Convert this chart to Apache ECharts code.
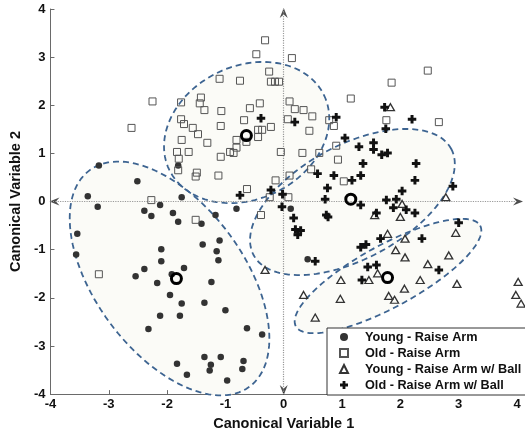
<!DOCTYPE html>
<html><head><meta charset="utf-8">
<script src="https://cdn.jsdelivr.net/npm/echarts@6/dist/echarts.min.js"></script>
<style>html,body{margin:0;padding:0;background:#fff}#c{width:525px;height:436px}</style>
</head><body><div id="c"></div>
<script>
const xTicks = [-4,-3,-2,-1,0,1,2,3,4];
const yTicks = [-4,-3,-2,-1,0,1,2,3,4];
const seriesNames = ['Young - Raise Arm','Old - Raise Arm','Young - Raise Arm w/ Ball','Old - Raise Arm w/ Ball'];

const youngRaiseArm = [[-3.17,0.75],[-2.51,0.42],[-3.36,0.11],[-3.19,-0.11],[-1.81,0.75],[-1.75,0.09],[-2.39,-0.19],[-2.27,-0.30],[-2.12,-0.07],[-1.90,-0.24],[-1.17,-0.28],[-0.81,-0.15],[-1.81,-0.42],[-1.41,-0.46],[-3.54,-0.67],[-3.56,-1.10],[-2.10,-0.99],[-1.39,-0.89],[-1.10,-0.81],[-1.15,-1.03],[-1.12,-1.22],[-2.10,-1.24],[-2.39,-1.40],[-2.54,-1.55],[-1.71,-1.38],[-1.92,-1.51],[-2.17,-1.69],[-1.24,-1.67],[-1.95,-1.94],[-1.75,-2.12],[-1.36,-2.10],[-2.12,-2.37],[-1.78,-2.37],[-1.00,-2.26],[-2.32,-2.65],[-0.63,-2.63],[-0.37,-2.76],[-1.36,-3.23],[-1.25,-3.39],[-1.83,-3.37],[-1.27,-3.51],[-1.08,-3.23],[-0.69,-3.31],[-0.71,-3.48],[-1.66,-3.60],[-0.97,-3.72],[0.12,-0.15],[0.41,-1.20]];

const oldRaiseArm = [[-0.32,3.35],[-0.47,3.06],[0.14,2.98],[-0.25,2.70],[-0.22,2.49],[-0.15,2.49],[-0.08,2.49],[-1.10,2.55],[-0.75,2.51],[-2.25,2.08],[-2.61,1.53],[-1.76,2.06],[-1.42,2.16],[-1.44,2.04],[-1.36,1.90],[-1.07,1.88],[-0.58,1.94],[-0.41,2.04],[0.10,2.08],[0.19,1.92],[0.34,1.90],[0.49,1.77],[0.07,1.71],[-1.76,1.71],[-1.71,1.61],[-1.56,1.53],[-1.47,1.40],[-1.08,1.57],[-0.68,1.69],[-0.44,1.49],[-0.37,1.49],[-0.22,1.55],[-0.44,1.34],[-1.75,1.28],[-1.31,1.22],[-0.81,1.28],[-0.64,1.24],[0.44,1.47],[2.47,2.72],[1.85,2.47],[1.15,2.14],[0.78,1.69],[0.86,1.57],[1.76,1.69],[2.66,1.65],[0.90,1.16],[0.93,0.87],[-1.08,0.93],[-0.92,1.03],[-0.86,1.01],[-0.81,1.12],[-1.83,1.03],[-1.63,1.03],[-1.80,0.89],[-1.81,0.65],[-1.49,0.60],[-1.51,0.52],[-1.12,0.54],[-0.05,1.03],[0.32,1.01],[0.61,1.01],[-0.14,0.44],[0.10,0.54],[0.47,0.67],[1.03,0.42],[-0.63,0.26],[-0.24,0.09],[0.08,0.09],[-2.27,0.03],[-1.51,-0.38],[-0.39,-0.28],[-3.17,-1.51]];

const youngRaiseArmBall = [[1.83,1.96],[2.03,-0.05],[2.78,0.09],[2.00,-0.32],[1.56,-0.28],[2.95,-0.65],[1.78,-0.67],[2.08,-0.77],[1.92,-1.01],[2.08,-1.16],[2.47,-1.30],[2.83,-1.12],[1.61,-1.49],[1.46,-1.63],[0.98,-1.63],[2.34,-1.63],[2.07,-1.81],[2.97,-1.71],[0.34,-1.94],[0.97,-2.02],[1.80,-1.96],[1.90,-2.04],[0.54,-2.41],[-0.32,-1.42],[4.02,-1.67],[3.98,-1.94],[4.07,-2.12]];

const oldRaiseArmBall = [[-0.39,1.73],[0.19,1.65],[-0.75,0.13],[0.90,1.75],[1.73,1.96],[2.20,1.71],[1.75,1.51],[1.05,1.32],[1.29,1.14],[1.54,1.22],[1.54,1.08],[1.68,0.97],[1.78,1.01],[2.27,0.79],[1.36,0.79],[0.58,0.58],[0.86,0.54],[1.17,0.44],[1.32,0.54],[2.25,0.44],[2.90,0.32],[0.75,0.28],[2.03,0.22],[0.71,0.05],[1.93,0.05],[1.76,0.03],[1.32,-0.07],[1.88,-0.13],[2.10,-0.17],[2.25,-0.24],[1.59,-0.24],[0.73,-0.28],[0.76,-0.32],[3.00,-0.44],[-0.22,0.24],[-0.02,0.15],[-0.03,-0.11],[0.17,-0.34],[0.20,-0.58],[0.29,-0.60],[0.24,-0.69],[0.54,-1.24],[1.32,-0.95],[1.41,-0.89],[1.66,-0.77],[2.37,-0.77],[1.44,-1.36],[1.59,-1.32],[1.34,-1.63],[2.66,-1.42]];

const centroids = [[-1.84,-1.60],[-0.64,1.37],[1.15,0.05],[1.78,-1.58]];

// confidence ellipses: [centerX, centerY, semiDiameter1 (dx,dy), semiDiameter2 (dx,dy)] in data units
const ellipseYoungRaise = [-1.958,-1.598, 1.368,-2.251, -1.029,-0.913];
const ellipseOldRaise = [-0.636,1.434, 1.326,0.778, 0.499,-1.243];
const ellipseOldBall = [1.178,-0.010, 1.693,1.107, 0.465,-1.039];
const ellipseYoungBall = [1.788,-1.547, 1.580,1.046, 0.256,-0.564];
const ellipses = [ellipseYoungRaise, ellipseOldRaise, ellipseOldBall, ellipseYoungBall];

const axisEnds = [[0,4],[4,0],[0,-4],[-4,0]];

const FONT = '"Liberation Sans", Arial, sans-serif';
const PLUS = 'path://M2.6,0H5.4V2.6H8V5.4H5.4V8H2.6V5.4H0V2.6H2.6Z';
const ARROW = 'path://M5,0L10,10L5,6.5L0,10Z';

function ellipseItem(mode){
  return function(params, api){
    const e = ellipses[api.value(0)];
    const pts = [];
    const N = 120;
    for (let k = 0; k <= N; k++){
      const t = 2*Math.PI*k/N;
      pts.push(api.coord([e[0]+Math.cos(t)*e[2]+Math.sin(t)*e[4], e[1]+Math.cos(t)*e[3]+Math.sin(t)*e[5]]));
    }
    if (mode === 'fill') return {type:'polygon', shape:{points:pts}, style:{fill:'#fbfbf7', stroke:null, opacity:1}};
    return {type:'polyline', shape:{points:pts}, style:{fill:null, stroke:'#3d6491', lineWidth:1.8, lineDash:[6,4]}};
  };
}

const chart = echarts.init(document.getElementById('c'), null, {renderer:'canvas'});
const axisCommon = {
  min:-4, max:4, interval:1,
  axisLine:{show:true, onZero:false, lineStyle:{color:'#6a6a6a', width:1}},
  axisTick:{show:true, inside:true, length:4, lineStyle:{color:'#6a6a6a'}},
  splitLine:{show:false},
  nameLocation:'middle',
  nameTextStyle:{fontFamily:FONT, fontWeight:'bold', fontSize:14.5, color:'#111'}
};
chart.setOption({
  animation:false,
  backgroundColor:'#fff',
  grid:{left:45.5, right:8, top:9, bottom:37},
  xAxis:Object.assign({}, axisCommon, {type:'value', name:'Canonical Variable 1', nameGap:16,
    axisLabel:{margin:4, fontFamily:FONT, fontWeight:'bold', fontSize:13, color:'#111', formatter:function(v){return xTicks.indexOf(v)>=0?String(v):'';}}}),
  yAxis:Object.assign({}, axisCommon, {type:'value', name:'Canonical Variable 2', nameGap:21,
    axisLabel:{margin:5, fontFamily:FONT, fontWeight:'bold', fontSize:13, color:'#111', formatter:function(v){return yTicks.indexOf(v)>=0?String(v):'';}}}),
  legend:{
    data:seriesNames, orient:'vertical', left:327, top:328,
    backgroundColor:'#fff', borderColor:'#333', borderWidth:1, borderRadius:0,
    padding:[2,6,3,12], itemGap:2, itemWidth:8, itemHeight:8,
    textStyle:{fontFamily:FONT, fontWeight:'bold', fontSize:12.7, color:'#111', lineHeight:14, padding:[0,0,0,12]},
    selectedMode:false
  },
  series:[
    {type:'custom', name:'ellipseFill', z:1, silent:true, clip:false, renderItem:ellipseItem('fill'), data:ellipses.map(function(e,i){return [i, 0];})},
    {type:'custom', name:'ellipseLine', z:3, silent:true, clip:false, renderItem:ellipseItem('line'), data:ellipses.map(function(e,i){return [i, 0];})},
    {type:'scatter', name:'zeroLines', z:2, silent:true, data:[],
      markLine:{silent:true, symbol:'none', animation:false, label:{show:false},
        lineStyle:{color:'#9a9a9a', type:'dotted', width:1.2},
        data:[[{coord:[axisEnds[3][0],axisEnds[3][1]]},{coord:[axisEnds[1][0],axisEnds[1][1]]}],[{coord:[axisEnds[2][0],axisEnds[2][1]]},{coord:[axisEnds[0][0],axisEnds[0][1]]}]]}},
    {type:'scatter', name:'arrows', z:4, silent:true, clip:false, symbol:ARROW, symbolSize:[8,10],
      itemStyle:{color:'#222'},
      data:[
        {value:axisEnds[0], symbolRotate:0, symbolOffset:[0,4]},
        {value:axisEnds[1], symbolRotate:-90, symbolOffset:[1,0]},
        {value:axisEnds[2], symbolRotate:180, symbolOffset:[0,-4]},
        {value:axisEnds[3], symbolRotate:90, symbolOffset:[4,0]}
      ]},
    {type:'scatter', name:seriesNames[0], z:5, clip:false, symbol:'circle', symbolSize:6.5,
      itemStyle:{color:'#333', opacity:1}, data:youngRaiseArm},
    {type:'scatter', name:seriesNames[1], z:5, clip:false, symbol:'rect', symbolSize:7,
      itemStyle:{color:'rgba(255,255,255,0)', borderColor:'#555', borderWidth:1, opacity:1}, data:oldRaiseArm},
    {type:'scatter', name:seriesNames[2], z:5, clip:false, symbol:'triangle', symbolSize:[8,7],
      itemStyle:{color:'rgba(255,255,255,0)', borderColor:'#333', borderWidth:1.3, opacity:1}, data:youngRaiseArmBall},
    {type:'scatter', name:seriesNames[3], z:5, clip:false, symbol:PLUS, symbolSize:8.5,
      itemStyle:{color:'#111', opacity:1}, data:oldRaiseArmBall},
    {type:'scatter', name:'centroids', z:6, clip:false, symbol:'circle', symbolSize:10,
      itemStyle:{color:'rgba(255,255,255,0)', borderColor:'#000', borderWidth:3, opacity:1}, data:centroids}
  ]
});
</script></body></html>
